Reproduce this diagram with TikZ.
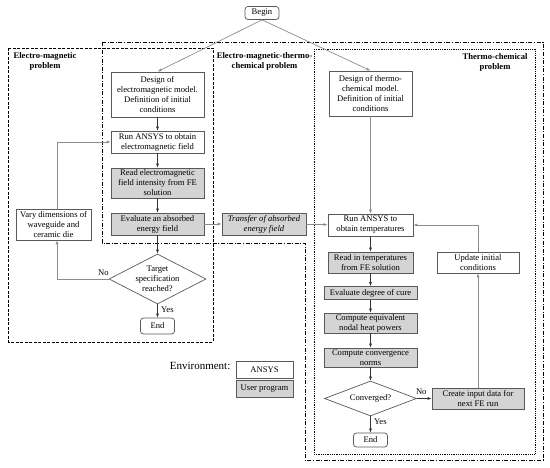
\documentclass[tikz,border=0pt]{standalone}
\usepackage{fontspec}
\setmainfont{Liberation Serif}
\usetikzlibrary{shapes.geometric,arrows.meta}
\begin{document}
\begin{tikzpicture}[x=1pt,y=-1pt,
  every node/.style={font=\fontsize{8.6}{10}\selectfont},
  box/.style={draw=black!65, line width=0.7pt, fill=white, align=center, inner sep=1pt},
  gbox/.style={box, fill=black!17},
  term/.style={box, rounded corners=3pt},
  dia/.style={draw=black!65, line width=0.7pt, fill=white, shape=diamond, inner sep=0pt},
  flow/.style={draw=black!80, line width=0.6pt, -{Latex[length=4pt,width=3pt]}},
  gflow/.style={draw=black!45, line width=0.7pt, -{Latex[length=4pt,width=3pt]}},
  lab/.style={font=\fontsize{8.6}{10}\selectfont},
  ttl/.style={font=\bfseries\fontsize{8.6}{10}\selectfont, align=center}
]
\useasboundingbox (0,0) rectangle (550,468);
% region boxes
\draw[line width=0.8pt, dash pattern=on 4pt off 1.6pt on 1pt off 1.6pt]
  (102,42) -- (543,42) -- (543,460) -- (305,460) -- (305,243) -- (102,243) -- cycle;
\draw[line width=0.8pt, dash pattern=on 3pt off 1.5pt] (8,48) rectangle (213,342);
\draw[line width=0.8pt, dash pattern=on 1pt off 0.8pt] (314,49) rectangle (535,454);
\node[ttl] (tEM) at (45,61) {Electro-magnetic\\problem};
\node[ttl] (tEMTC) at (264.5,61) {Electro-magnetic-thermo-\\chemical problem};
\node[ttl] (tTC) at (495,62) {Thermo-chemical\\problem};
% nodes
\node[term, minimum width=34, minimum height=13] (begin) at (262,13) {Begin};
\node[box, minimum width=93, minimum height=45] (desEM) at (157.5,94.5) {Design of\\electromagnetic model.\\Definition of initial\\conditions};
\node[box, minimum width=93, minimum height=22] (runEM) at (157.5,142) {Run ANSYS to obtain\\electromagnetic field};
\node[gbox, minimum width=93, minimum height=30] (readEM) at (157.5,183) {Read electromagnetic\\field intensity from FE\\solution};
\node[gbox, minimum width=93, minimum height=22] (evalEM) at (157.5,224) {Evaluate an absorbed\\energy field};
\node[dia, minimum width=97, minimum height=50] (tgt) at (157.5,279) {};
\node[lab, align=center] at (tgt) {Target\\specification\\reached?};
\node[term, minimum width=34, minimum height=16] (endEM) at (157.5,326) {End};
\node[box, minimum width=75, minimum height=31] (vary) at (53.5,224.5) {Vary dimensions of\\waveguide and\\ceramic die};
\node[gbox, minimum width=84, minimum height=22, font=\itshape\fontsize{8.6}{10}\selectfont] (transfer) at (264,224) {Transfer of absorbed\\energy field};
\node[box, minimum width=83, minimum height=45] (desTC) at (370.5,93.5) {Design of thermo-\\chemical model.\\Definition of initial\\conditions};
\node[box, minimum width=85, minimum height=22] (runTC) at (370.5,225) {Run ANSYS to\\obtain temperatures};
\node[gbox, minimum width=85, minimum height=21] (readTC) at (370.5,262.5) {Read in temperatures\\from FE solution};
\node[gbox, minimum width=93, minimum height=13] (cure) at (370.5,293) {Evaluate degree of cure};
\node[gbox, minimum width=93, minimum height=20] (nodal) at (370.5,323) {Compute equivalent\\nodal heat powers};
\node[gbox, minimum width=93, minimum height=19] (norms) at (370.5,357.5) {Compute convergence\\norms};
\node[dia, minimum width=92, minimum height=35] (conv) at (370.5,398.5) {};
\node[lab] at (conv) {Converged?};
\node[term, minimum width=34, minimum height=14] (endTC) at (370.5,440) {End};
\node[gbox, minimum width=92, minimum height=21] (create) at (478,398.5) {Create input data for\\next FE run};
\node[box, minimum width=82, minimum height=21] (update) at (478,262.5) {Update initial\\conditions};
% legend
\node[anchor=east, font=\fontsize{11}{13}\selectfont, inner sep=0pt] (env) at (230.5,366) {Environment:};
\node[box, minimum width=57, minimum height=17] (ansys) at (264.5,369.5) {ANSYS};
\node[gbox, minimum width=57, minimum height=17] (user) at (264.5,388.5) {User program};
% connectors
\coordinate (vx) at (57,0);
\draw[gflow] (begin.south) -- (desEM.north);
\draw[gflow] (begin.south) -- (desTC.north);
\draw[flow] (desEM) -- (runEM);
\draw[flow] (runEM) -- (readEM);
\draw[flow] (readEM) -- (evalEM);
\draw[flow] (evalEM) -- (tgt);
\draw[flow] (tgt) -- node[lab, right, pos=0.4] {Yes} (endEM);
\draw[gflow] (tgt.west) -- node[lab, above, pos=0.1] {No} (tgt.west -| vx) -- (vary.south -| vx);
\draw[gflow] (vary.north -| vx) |- (runEM.west);
\draw[gflow] (evalEM) -- (transfer);
\draw[gflow] (transfer) -- (runTC);
\draw[gflow] (desTC) -- (runTC);
\draw[flow] (runTC) -- (readTC);
\draw[flow] (readTC) -- (cure);
\draw[flow] (cure) -- (nodal);
\draw[flow] (nodal) -- (norms);
\draw[flow] (norms) -- (conv);
\draw[flow] (conv) -- node[lab, right, pos=0.35] {Yes} (endTC);
\draw[flow] (conv) -- node[lab, above, pos=0.3] {No} (create);
\draw[gflow] (create) -- (update);
\draw[gflow] (update.north) |- (runTC.east);
\end{tikzpicture}
\end{document}
